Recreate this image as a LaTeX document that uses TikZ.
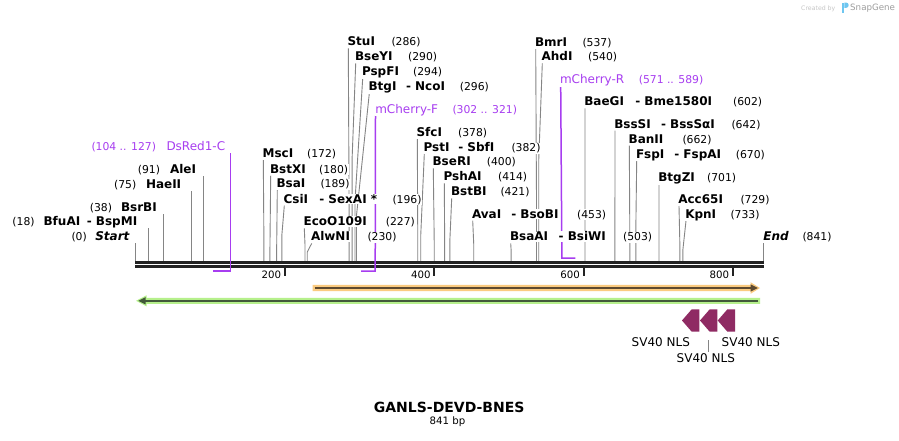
\documentclass[tikz,border=0pt]{standalone}
\usepackage{fontspec}
\setmainfont{DejaVu Sans}
\usetikzlibrary{calc}
\pgfdeclarelayer{background}
\pgfsetlayers{background,main}
\definecolor{cutgray}{HTML}{858585}
\definecolor{prim}{HTML}{A73DF0}
\definecolor{seqc}{HTML}{222222}
\definecolor{orgf}{HTML}{FBCB80}
\definecolor{orgd}{HTML}{5E4A30}
\definecolor{grnf}{HTML}{B6F08C}
\definecolor{grnd}{HTML}{42593A}
\definecolor{nlsc}{HTML}{8F2B63}
\definecolor{sgblue}{HTML}{6EC6F0}
\newcommand{\rcut}[3]{%
  \coordinate (c#1) at ({135.5+0.74673*#1},261);
  \draw[cutline] (c#1) -- ({135.5+0.74673*#1},#2) -- ($(#3.base west)+(1.5,2.5)$);}
\newcommand{\lcut}[2]{%
  \coordinate (c#1) at ({135.5+0.74673*#1},261);
  \draw[cutline] (c#1) -- ($(c#1 |- #2.base)+(0,2.5)$);}
\begin{document}
\begin{tikzpicture}[x=1pt,y=-1pt,
 nm/.style={font=\bfseries\fontsize{12}{14}\selectfont, anchor=base west, inner sep=0.6pt, fill=white},
 ni/.style={font=\bfseries\itshape\fontsize{12}{14}\selectfont, anchor=base west, inner sep=0.6pt, fill=white},
 nb/.style={font=\fontsize{10.8}{12}\selectfont, anchor=base west, inner sep=0.6pt, fill=white},
 pm/.style={font=\fontsize{12}{14}\selectfont, text=prim, anchor=base west, inner sep=0.6pt, fill=white},
 pn/.style={font=\fontsize{10.8}{12}\selectfont, text=prim, anchor=base west, inner sep=0.6pt, fill=white},
 cutline/.style={draw=cutgray, line width=0.9pt},
 primline/.style={draw=prim, line width=1.5pt},
 seqline/.style={draw=seqc, line width=2.6pt},
 tickline/.style={draw=seqc, line width=2pt},
 ticklab/.style={font=\fontsize{10.2}{12}\selectfont, anchor=base east, inner sep=0pt},
 featlab/.style={font=\fontsize{12}{14}\selectfont, anchor=base, inner sep=0pt},
 ]
\useasboundingbox (0,0) rectangle (899,440);

% ---------- left labels ----------
\node[nb] (nStart) at (70.7,240.9) {(0)};
\node[ni] (lStart) at (94.5,240.9) {Start};
\node[nb] (nBfu) at (11.7,225.9) {(18)};
\node[nm] (lBfu) at (42.8,225.9) {BfuAI};
\node[nm] (lBsp) at (86,225.9) {- BspMI};
\node[nb] (nBsr) at (89,211.5) {(38)};
\node[nm] (lBsr) at (120.2,211.5) {BsrBI};
\node[nb] (nHae) at (113.3,188.2) {(75)};
\node[nm] (lHae) at (145.2,188.2) {HaeII};
\node[nb] (nAle) at (137,173.2) {(91)};
\node[nm] (lAle) at (169.2,173.2) {AleI};
\node[pn] (nDs) at (90.7,150.9) {(104 .. 127)};
\node[pm] (lDs) at (165.7,150.9) {DsRed1-C};

% ---------- right labels ----------
\node[nm] (lMsc) at (261.8,157.5) {MscI};
\node[nb] (nMsc) at (306.3,157.5) {(172)};
\node[nm] (lBstX) at (269.2,173.2) {BstXI};
\node[nb] (nBstX) at (318.3,173.2) {(180)};
\node[nm] (lBsa) at (275.8,187.5) {BsaI};
\node[nb] (nBsa) at (319.7,187.5) {(189)};
\node[nm] (lCsi) at (282.8,203.2) {CsiI};
\node[nm] (lSex) at (318.5,203.2) {- SexAI *};
\node[nb] (nCsi) at (391.7,203.2) {(196)};
\node[nm] (lEco) at (302.8,225.9) {EcoO109I};
\node[nb] (nEco) at (385,225.9) {(227)};
\node[nm] (lAlw) at (310.2,240.9) {AlwNI};
\node[nb] (nAlw) at (366.7,240.9) {(230)};
\node[nm] (lStu) at (346.8,45.9) {StuI};
\node[nb] (nStu) at (390.7,45.9) {(286)};
\node[nm] (lBseY) at (354.2,60.9) {BseYI};
\node[nb] (nBseY) at (407.3,60.9) {(290)};
\node[nm] (lPspF) at (361.2,75.9) {PspFI};
\node[nb] (nPspF) at (412.3,75.9) {(294)};
\node[nm] (lBtg) at (367.8,90.9) {BtgI};
\node[nm] (lNco) at (405.2,90.9) {- NcoI};
\node[nb] (nBtg) at (459,90.9) {(296)};
\node[pm] (lmCF) at (374.5,113.2) {mCherry-F};
\node[pn] (nmCF) at (451.7,113.2) {(302 .. 321)};
\node[nm] (lSfc) at (415.8,136.5) {SfcI};
\node[nb] (nSfc) at (457.3,136.5) {(378)};
\node[nm] (lPst) at (422.8,151.5) {PstI};
\node[nm] (lSbf) at (457.5,151.5) {- SbfI};
\node[nb] (nPst) at (510.7,151.5) {(382)};
\node[nm] (lBseR) at (431.8,165.9) {BseRI};
\node[nb] (nBseR) at (486,165.9) {(400)};
\node[nm] (lPshA) at (442.8,180.9) {PshAI};
\node[nb] (nPshA) at (497.3,180.9) {(414)};
\node[nm] (lBstB) at (450.2,195.9) {BstBI};
\node[nb] (nBstB) at (499.7,195.9) {(421)};
\node[nm] (lAva) at (471.2,218.2) {AvaI};
\node[nm] (lBso) at (510.5,218.2) {- BsoBI};
\node[nb] (nAva) at (576.3,218.2) {(453)};
\node[nm] (lBsaA) at (509.2,240.9) {BsaAI};
\node[nm] (lBsiW) at (557.8,240.9) {- BsiWI};
\node[nb] (nBsaA) at (622.3,240.9) {(503)};
\node[nm] (lBmr) at (534.2,46.5) {BmrI};
\node[nb] (nBmr) at (581.7,46.5) {(537)};
\node[nm] (lAhd) at (540.8,60.9) {AhdI};
\node[nb] (nAhd) at (587.3,60.9) {(540)};
\node[pm] (lmCR) at (559.2,83.5) {mCherry-R};
\node[pn] (nmCR) at (638,83.5) {(571 .. 589)};
\node[nm] (lBae) at (583.5,105.9) {BaeGI};
\node[nm] (lBme) at (634.5,105.9) {- Bme1580I};
\node[nb] (nBae) at (732.3,105.9) {(602)};
\node[nm] (lBssS) at (613.5,128.2) {BssSI};
\node[nm] (lBssSa) at (660.2,128.2) {- BssSαI};
\node[nb] (nBssS) at (730.7,128.2) {(642)};
\node[nm] (lBan) at (627.8,143.2) {BanII};
\node[nb] (nBan) at (681.7,143.2) {(662)};
\node[nm] (lFsp) at (635.2,158.2) {FspI};
\node[nm] (lFspA) at (673.5,158.2) {- FspAI};
\node[nb] (nFsp) at (735,158.2) {(670)};
\node[nm] (lBtgZ) at (657.5,181.5) {BtgZI};
\node[nb] (nBtgZ) at (706.3,181.5) {(701)};
\node[nm] (lAcc) at (677.5,203.5) {Acc65I};
\node[nb] (nAcc) at (739.7,203.5) {(729)};
\node[nm] (lKpn) at (684.5,218.2) {KpnI};
\node[nb] (nKpn) at (729.7,218.2) {(733)};
\node[ni] (lEnd) at (762.5,240.9) {End};
\node[nb] (nEnd) at (801.7,240.9) {(841)};

% ---------- tick labels ----------
\node[ticklab] (t200) at (281.3,278) {200};
\node[ticklab] (t400) at (430.7,278) {400};
\node[ticklab] (t600) at (580,278) {600};
\node[ticklab] (t800) at (729.4,278) {800};

% ---------- features ----------
\fill[orgf] (312.7,284.8) -- (750.5,284.8) -- (750.5,282.2) -- (760,288) -- (750.5,293.8) -- (750.5,291.2) -- (312.7,291.2) -- cycle;
\draw[orgd, line width=2pt] (314.5,288) -- (752,288);
\fill[orgd] (750.5,284.3) -- (757.8,288) -- (750.5,291.7) -- cycle;
\fill[grnf] (760,297.8) -- (146.5,297.8) -- (146.5,295.3) -- (136,300.8) -- (146.5,306.3) -- (146.5,303.8) -- (760,303.8) -- cycle;
\draw[grnd, line width=2pt] (758.3,300.8) -- (145,300.8);
\fill[grnd] (145.5,297.2) -- (138.3,300.8) -- (145.5,304.4) -- cycle;

\foreach \x in {682,700,717.7}
  \fill[nlsc] (\x,320.5) -- (\x+9.7,309.3) -- (\x+17.3,309.3) -- (\x+17.3,331.7) -- (\x+9.7,331.7) -- cycle;
\node[featlab] (sv1) at (660.8,346.5) {SV40 NLS};
\node[featlab] (sv3) at (750.8,346.5) {SV40 NLS};
\node[featlab] (sv2) at (705.8,362.7) {SV40 NLS};
\coordinate (nlsT) at (708.3,340);
\coordinate (nlsB) at (708.3,351.7);
\draw[cutline, line width=0.7pt] (nlsT) -- (nlsB);

% ---------- title ----------
\node[font=\bfseries\fontsize{14}{16}\selectfont, anchor=base, inner sep=0pt] (title) at (449.2,412.5) {GANLS-DEVD-BNES};
\node[font=\fontsize{10.2}{12}\selectfont, anchor=base, inner sep=0pt] (bp) at (447.5,424.5) {841 bp};

% ---------- credit ----------
\node[font=\fontsize{6.2}{7}\selectfont, text=black!22, anchor=base west, inner sep=0pt] (cr) at (801,10.5) {Created by};
\fill[sgblue] (841.5,2.5) rectangle (844.3,13);
\fill[sgblue] (844.3,2.5) -- (846,2.5) arc[start angle=90, end angle=-90, radius=2.7pt] -- (844.3,7.9) -- cycle;
\node[font=\fontsize{8.7}{10}\selectfont, text=black!38, anchor=base west, inner sep=0pt] (sg) at (850,10.3) {SnapGene};

\begin{pgfonlayer}{background}
\fill[white] (0,0) rectangle (899,440);
% cut lines
\lcut{0}{lStart}
\lcut{18}{lBfu}
\lcut{38}{lBsr}
\lcut{75}{lHae}
\lcut{91}{lAle}
\rcut{172}{245}{lMsc}
\rcut{180}{250}{lBstX}
\rcut{189}{250}{lBsa}
\rcut{196}{235}{lCsi}
\rcut{227}{245}{lEco}
\rcut{230}{252}{lAlw}
\rcut{286}{200}{lStu}
\rcut{290}{160}{lBseY}
\rcut{294}{200}{lPspF}
\rcut{296}{215}{lBtg}
\rcut{378}{240}{lSfc}
\rcut{382}{235}{lPst}
\rcut{400}{240}{lBseR}
\rcut{414}{240}{lPshA}
\rcut{421}{240}{lBstB}
\rcut{453}{245}{lAva}
\rcut{503}{250}{lBsaA}
\rcut{537}{200}{lBmr}
\rcut{540}{160}{lAhd}
\rcut{602}{240}{lBae}
\rcut{642}{240}{lBssS}
\rcut{662}{240}{lBan}
\rcut{670}{230}{lFsp}
\rcut{701}{245}{lBtgZ}
\rcut{729}{245}{lAcc}
\rcut{733}{250}{lKpn}
\lcut{841}{lEnd}
% sequence
\coordinate (s0a) at (135,262.6);
\coordinate (s1a) at (763.5,262.6);
\coordinate (s0b) at (135,266.4);
\coordinate (s1b) at (763.5,266.4);
\draw[seqline] (s0a) -- (s1a);
\draw[seqline] (s0b) -- (s1b);
% ticks
\foreach \p/\n in {200/a,400/b,600/c,800/d}{
  \coordinate (k\n1) at ({135.5+0.74673*\p},267);
  \coordinate (k\n2) at ({135.5+0.74673*\p},275.5);
  \draw[tickline] (k\n1) -- (k\n2);
}
% primers
\coordinate (dsA) at ({135.5+0.74673*104},271);
\coordinate (dsB) at ({135.5+0.74673*127},271);
\draw[primline] (dsA) -- (dsB) -- ($(dsB |- lDs.base)+(0,2.5)$);
\coordinate (mfA) at ({135.5+0.74673*302},271);
\coordinate (mfB) at ({135.5+0.74673*321},271);
\draw[primline] (mfA) -- (mfB) -- ($(lmCF.base west)+(1,2.5)$);
\coordinate (mrA) at ({135.5+0.74673*571},258);
\coordinate (mrB) at ({135.5+0.74673*589},258);
\draw[primline] (mrB) -- (mrA) -- ($(lmCR.base west)+(1.5,2.5)$);
\end{pgfonlayer}
\end{tikzpicture}
\end{document}
